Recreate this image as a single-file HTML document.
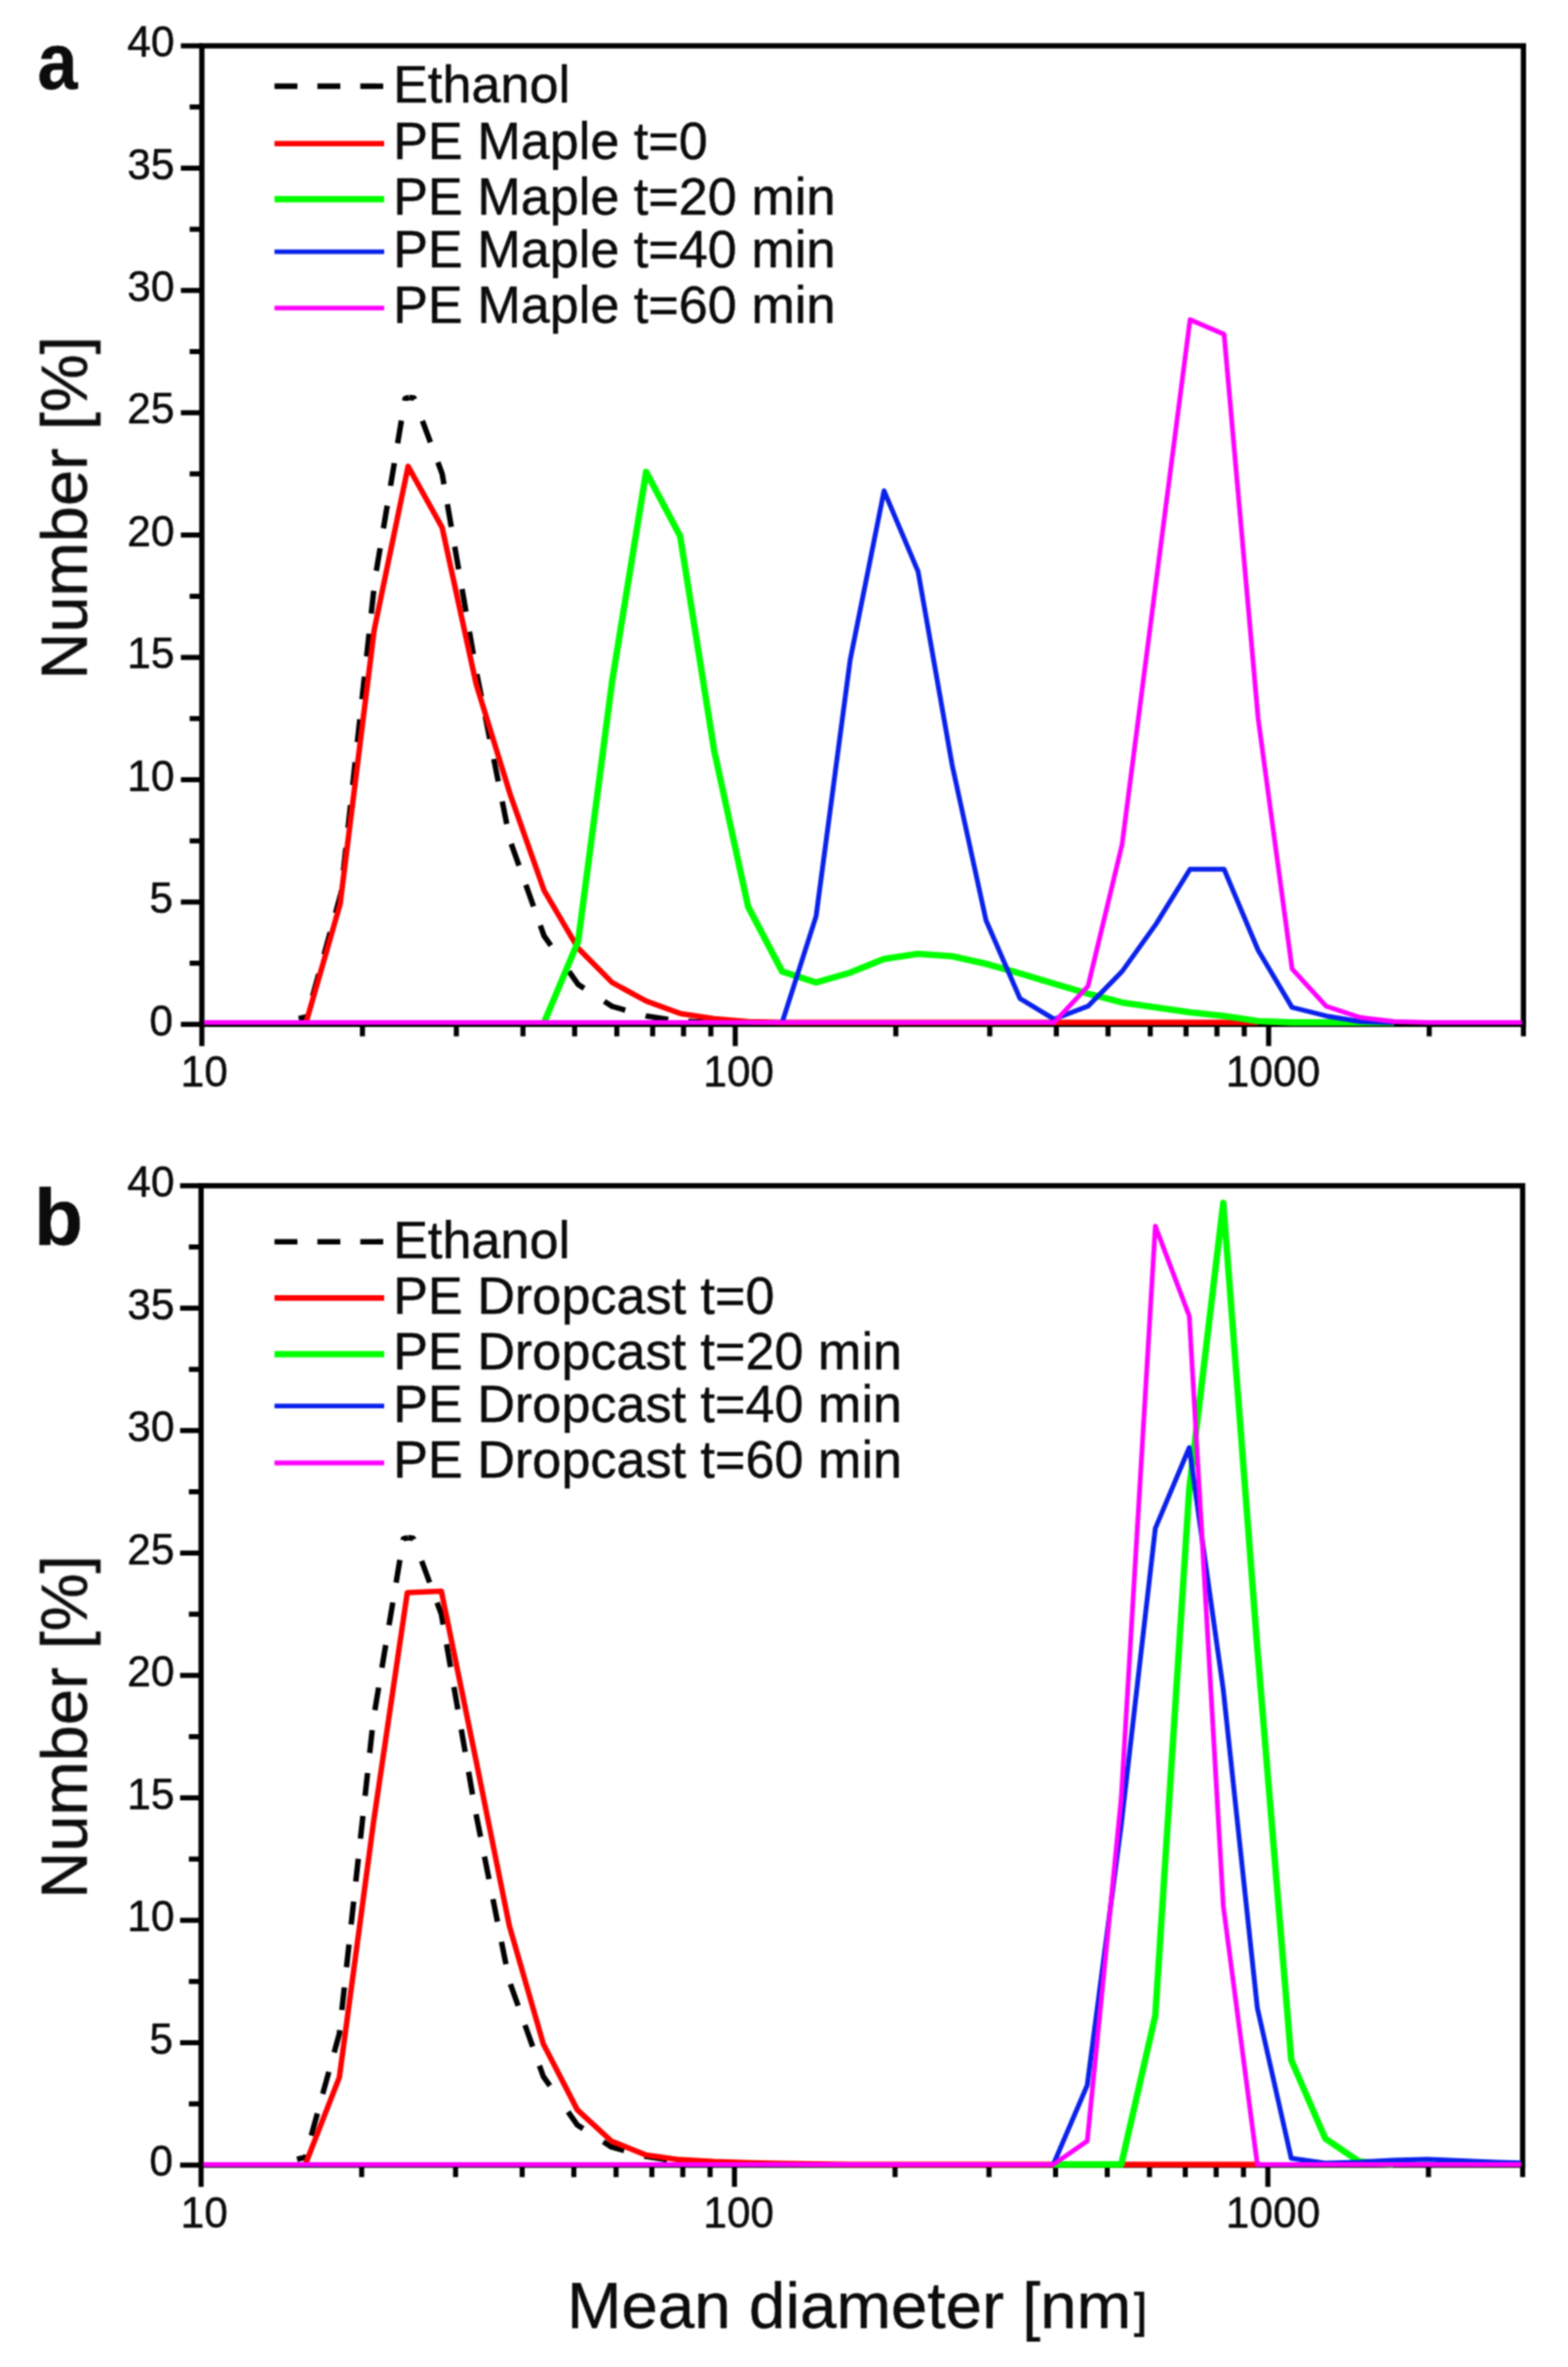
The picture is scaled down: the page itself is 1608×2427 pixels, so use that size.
<!DOCTYPE html>
<html lang="en"><head><meta charset="utf-8"><title>Particle size distributions</title>
<style>html,body{margin:0;padding:0;background:#fff}body{width:1608px;height:2427px;overflow:hidden}svg{display:block}text{font-family:"Liberation Sans",sans-serif;fill:#0c0c0c;stroke:#0c0c0c;stroke-width:0.45px}</style></head><body>
<svg width="1608" height="2427" viewBox="0 0 1608 2427">
<defs><filter id="bl" filterUnits="userSpaceOnUse" x="0" y="0" width="1608" height="2427" color-interpolation-filters="sRGB"><feConvolveMatrix order="3" kernelMatrix="1 2 1 2 4 2 1 2 1" divisor="16" edgeMode="duplicate" preserveAlpha="false"/></filter>
<clipPath id="clipa"><rect x="207.0" y="44.0" width="1353.8" height="1009.3"/></clipPath>
<clipPath id="clipb"><rect x="207.0" y="1212.8" width="1353.8" height="1010.2"/></clipPath>
</defs>
<rect width="1608" height="2427" fill="#fff"/>
<g filter="url(#bl)">
<g stroke="#000" fill="none" stroke-linecap="butt" transform="translate(0.0,0)">
<rect x="207.0" y="47.0" width="1355.3" height="1003.3" stroke-width="5.4"/>
<line x1="185.5" y1="1050.3" x2="207.0" y2="1050.3" stroke-width="5.2"/>
<line x1="194.5" y1="987.6" x2="207.0" y2="987.6" stroke-width="5.2"/>
<line x1="185.5" y1="924.9" x2="207.0" y2="924.9" stroke-width="5.2"/>
<line x1="194.5" y1="862.2" x2="207.0" y2="862.2" stroke-width="5.2"/>
<line x1="185.5" y1="799.5" x2="207.0" y2="799.5" stroke-width="5.2"/>
<line x1="194.5" y1="736.8" x2="207.0" y2="736.8" stroke-width="5.2"/>
<line x1="185.5" y1="674.1" x2="207.0" y2="674.1" stroke-width="5.2"/>
<line x1="194.5" y1="611.4" x2="207.0" y2="611.4" stroke-width="5.2"/>
<line x1="185.5" y1="548.6" x2="207.0" y2="548.6" stroke-width="5.2"/>
<line x1="194.5" y1="485.9" x2="207.0" y2="485.9" stroke-width="5.2"/>
<line x1="185.5" y1="423.2" x2="207.0" y2="423.2" stroke-width="5.2"/>
<line x1="194.5" y1="360.5" x2="207.0" y2="360.5" stroke-width="5.2"/>
<line x1="185.5" y1="297.8" x2="207.0" y2="297.8" stroke-width="5.2"/>
<line x1="194.5" y1="235.1" x2="207.0" y2="235.1" stroke-width="5.2"/>
<line x1="185.5" y1="172.4" x2="207.0" y2="172.4" stroke-width="5.2"/>
<line x1="194.5" y1="109.7" x2="207.0" y2="109.7" stroke-width="5.2"/>
<line x1="185.5" y1="47.0" x2="207.0" y2="47.0" stroke-width="5.2"/>
<line x1="207.0" y1="1050.3" x2="207.0" y2="1072.6" stroke-width="5.2"/>
<line x1="371.7" y1="1050.3" x2="371.7" y2="1062.6" stroke-width="5.2"/>
<line x1="468.0" y1="1050.3" x2="468.0" y2="1062.6" stroke-width="5.2"/>
<line x1="536.3" y1="1050.3" x2="536.3" y2="1062.6" stroke-width="5.2"/>
<line x1="589.3" y1="1050.3" x2="589.3" y2="1062.6" stroke-width="5.2"/>
<line x1="632.6" y1="1050.3" x2="632.6" y2="1062.6" stroke-width="5.2"/>
<line x1="669.3" y1="1050.3" x2="669.3" y2="1062.6" stroke-width="5.2"/>
<line x1="701.0" y1="1050.3" x2="701.0" y2="1062.6" stroke-width="5.2"/>
<line x1="729.0" y1="1050.3" x2="729.0" y2="1062.6" stroke-width="5.2"/>
<line x1="754.0" y1="1050.3" x2="754.0" y2="1072.6" stroke-width="5.2"/>
<line x1="918.7" y1="1050.3" x2="918.7" y2="1062.6" stroke-width="5.2"/>
<line x1="1015.0" y1="1050.3" x2="1015.0" y2="1062.6" stroke-width="5.2"/>
<line x1="1083.3" y1="1050.3" x2="1083.3" y2="1062.6" stroke-width="5.2"/>
<line x1="1136.3" y1="1050.3" x2="1136.3" y2="1062.6" stroke-width="5.2"/>
<line x1="1179.6" y1="1050.3" x2="1179.6" y2="1062.6" stroke-width="5.2"/>
<line x1="1216.3" y1="1050.3" x2="1216.3" y2="1062.6" stroke-width="5.2"/>
<line x1="1248.0" y1="1050.3" x2="1248.0" y2="1062.6" stroke-width="5.2"/>
<line x1="1276.0" y1="1050.3" x2="1276.0" y2="1062.6" stroke-width="5.2"/>
<line x1="1301.0" y1="1050.3" x2="1301.0" y2="1072.6" stroke-width="5.2"/>
<line x1="1465.7" y1="1050.3" x2="1465.7" y2="1062.6" stroke-width="5.2"/>
<line x1="1562.3" y1="1050.3" x2="1562.3" y2="1062.6" stroke-width="5.2"/>
</g>
<g font-size="43.5" text-anchor="end">
<text x="177.4" y="1061.5">0</text>
<text x="177.4" y="936.1">5</text>
<text x="178.9" y="810.7">10</text>
<text x="178.9" y="685.3">15</text>
<text x="178.9" y="559.9">20</text>
<text x="178.9" y="434.4">25</text>
<text x="178.9" y="309.0">30</text>
<text x="178.9" y="183.6">35</text>
<text x="178.9" y="58.2">40</text>
</g>
<g font-size="43.5" text-anchor="middle">
<text x="209.5" y="1113.8">10</text>
<text x="757.5" y="1113.8">100</text>
<text x="1305.5" y="1113.8">1000</text>
</g>
<g clip-path="url(#clipa)" fill="none" stroke-linejoin="round" transform="translate(0.0,0)">
<polyline points="419.5,407.5 415.4,408.7 384.6,593.5 349.7,915.8 314.8,1042.5 306.3,1044.5" stroke="#000000" stroke-width="5.6" stroke-dasharray="23.5 20.7" stroke-dashoffset="17"/>
<polyline points="419.5,407.5 424.5,408.1 453.4,485.7 488.3,687.6 523.1,861.9 558.0,959.7 592.9,1009.4 627.7,1031.9 662.6,1041.7 697.5,1047.0 732.3,1048.4" stroke="#000000" stroke-width="5.6" stroke-dasharray="23.5 23.5 23.5 21.9 23.5 20.7 23.5 20.7 23.5 20.7 23.5 20.7 23.5 20.7 23.5 20.7 23.5 21.0 23.5 21.0 23.5 21.0 23.5 21.0 23.5 20.7 23.5 32.5 23.5 24.7 23.5 21.7 23.5 20.7 23.5 20.7 23.5 20.7 23.5 20.7 23.5 20.7 23.5 20.7 23.5 20.7 23.5 20.7 23.5 20.7 23.5 20.7 23.5 20.7 23.5 20.7 23.5 20.7 23.5 20.7 23.5 20.7 23.5 20.7 23.5 20.7 23.5 20.7 23.5 20.7 23.5 20.7 23.5 20.7 23.5 20.7 23.5 20.7 23.5 20.7 23.5 20.7" stroke-dashoffset="17"/>
<polyline points="313.9,1048.4 348.8,927.1 383.7,646.2 418.5,478.2 453.4,540.9 488.3,701.4 523.1,814.2 558.0,913.1 592.9,972.3 627.7,1007.4 662.6,1026.4 697.5,1039.2 732.3,1044.5 767.2,1047.5 802.1,1048.4 836.9,1048.4 871.8,1048.4 906.6,1048.4 941.5,1048.4 976.4,1048.4 1011.2,1048.4 1046.1,1048.4 1081.0,1048.4 1115.8,1048.4 1150.7,1048.4 1185.6,1048.4 1220.4,1048.4 1255.3,1048.4 1290.2,1048.4" stroke="#ff0000" stroke-width="5.6"/>
<polyline points="558.0,1048.4 592.9,965.2 627.7,698.9 662.6,483.9 697.5,549.7 732.3,769.1 767.2,929.6 802.1,996.1 836.9,1007.4 871.8,997.3 906.6,983.3 941.5,978.0 976.4,980.5 1011.2,988.3 1046.1,998.1 1081.0,1008.6 1115.8,1018.9 1150.7,1027.9 1185.6,1032.9 1220.4,1038.0 1255.3,1041.7 1290.2,1047.0 1325.0,1048.4 1359.9,1048.4 1394.8,1048.4 1429.6,1048.4" stroke="#00ff00" stroke-width="6.6"/>
<polyline points="802.1,1048.4 836.9,939.6 871.8,677.1 906.6,503.3 941.5,586.0 976.4,784.2 1011.2,943.7 1046.1,1023.9 1081.0,1045.0 1115.8,1031.7 1150.7,996.1 1185.6,947.4 1220.4,891.2 1255.3,891.2 1290.2,974.3 1325.0,1032.9 1359.9,1041.7 1394.8,1047.5 1429.6,1048.4" stroke="#0a22ea" stroke-width="5.0"/>
<polyline points="209.4,1048.4 244.2,1048.4 279.1,1048.4 313.9,1048.4 348.8,1048.4 383.7,1048.4 418.5,1048.4 453.4,1048.4 488.3,1048.4 523.1,1048.4 558.0,1048.4 592.9,1048.4 627.7,1048.4 662.6,1048.4 697.5,1048.4 732.3,1048.4 767.2,1048.4 802.1,1048.4 836.9,1048.4 871.8,1048.4 906.6,1048.4 941.5,1048.4 976.4,1048.4 1011.2,1048.4 1046.1,1048.4 1081.0,1048.4 1115.8,1011.1 1150.7,865.9 1185.6,596.1 1220.4,327.7 1255.3,342.7 1290.2,736.5 1325.0,993.3 1359.9,1031.7 1394.8,1043.2 1429.6,1047.5 1464.5,1048.4 1499.4,1048.4 1534.2,1048.4 1569.1,1048.4" stroke="#ff00ff" stroke-width="4.8"/>
</g>
<line x1="281.5" y1="88.4" x2="394" y2="88.4" stroke="#000000" stroke-width="5.6" stroke-dasharray="23.5 20.5"/>
<text x="403.2" y="104.8" font-size="53.5">Ethanol</text>
<line x1="281.5" y1="147.2" x2="394" y2="147.2" stroke="#ff0000" stroke-width="5.6"/>
<text x="403.2" y="163.3" font-size="53.5">PE Maple t=0</text>
<line x1="281.5" y1="204.2" x2="394" y2="204.2" stroke="#00ff00" stroke-width="6.6"/>
<text x="403.2" y="220.0" font-size="53.5">PE Maple t=20 min</text>
<line x1="281.5" y1="258.1" x2="394" y2="258.1" stroke="#0a22ea" stroke-width="4.8"/>
<text x="403.2" y="274.4" font-size="53.5">PE Maple t=40 min</text>
<line x1="281.5" y1="315.8" x2="394" y2="315.8" stroke="#ff00ff" stroke-width="4.8"/>
<text x="403.2" y="331.0" font-size="53.5">PE Maple t=60 min</text>
<g stroke="#000" fill="none" stroke-linecap="butt" transform="translate(-0.8,0)">
<rect x="207.0" y="1215.8" width="1355.3" height="1004.2" stroke-width="5.4"/>
<line x1="185.5" y1="2220.0" x2="207.0" y2="2220.0" stroke-width="5.2"/>
<line x1="194.5" y1="2157.2" x2="207.0" y2="2157.2" stroke-width="5.2"/>
<line x1="185.5" y1="2094.5" x2="207.0" y2="2094.5" stroke-width="5.2"/>
<line x1="194.5" y1="2031.7" x2="207.0" y2="2031.7" stroke-width="5.2"/>
<line x1="185.5" y1="1969.0" x2="207.0" y2="1969.0" stroke-width="5.2"/>
<line x1="194.5" y1="1906.2" x2="207.0" y2="1906.2" stroke-width="5.2"/>
<line x1="185.5" y1="1843.4" x2="207.0" y2="1843.4" stroke-width="5.2"/>
<line x1="194.5" y1="1780.7" x2="207.0" y2="1780.7" stroke-width="5.2"/>
<line x1="185.5" y1="1717.9" x2="207.0" y2="1717.9" stroke-width="5.2"/>
<line x1="194.5" y1="1655.1" x2="207.0" y2="1655.1" stroke-width="5.2"/>
<line x1="185.5" y1="1592.4" x2="207.0" y2="1592.4" stroke-width="5.2"/>
<line x1="194.5" y1="1529.6" x2="207.0" y2="1529.6" stroke-width="5.2"/>
<line x1="185.5" y1="1466.8" x2="207.0" y2="1466.8" stroke-width="5.2"/>
<line x1="194.5" y1="1404.1" x2="207.0" y2="1404.1" stroke-width="5.2"/>
<line x1="185.5" y1="1341.3" x2="207.0" y2="1341.3" stroke-width="5.2"/>
<line x1="194.5" y1="1278.6" x2="207.0" y2="1278.6" stroke-width="5.2"/>
<line x1="185.5" y1="1215.8" x2="207.0" y2="1215.8" stroke-width="5.2"/>
<line x1="207.0" y1="2220.0" x2="207.0" y2="2242.3" stroke-width="5.2"/>
<line x1="371.7" y1="2220.0" x2="371.7" y2="2232.3" stroke-width="5.2"/>
<line x1="468.0" y1="2220.0" x2="468.0" y2="2232.3" stroke-width="5.2"/>
<line x1="536.3" y1="2220.0" x2="536.3" y2="2232.3" stroke-width="5.2"/>
<line x1="589.3" y1="2220.0" x2="589.3" y2="2232.3" stroke-width="5.2"/>
<line x1="632.6" y1="2220.0" x2="632.6" y2="2232.3" stroke-width="5.2"/>
<line x1="669.3" y1="2220.0" x2="669.3" y2="2232.3" stroke-width="5.2"/>
<line x1="701.0" y1="2220.0" x2="701.0" y2="2232.3" stroke-width="5.2"/>
<line x1="729.0" y1="2220.0" x2="729.0" y2="2232.3" stroke-width="5.2"/>
<line x1="754.0" y1="2220.0" x2="754.0" y2="2242.3" stroke-width="5.2"/>
<line x1="918.7" y1="2220.0" x2="918.7" y2="2232.3" stroke-width="5.2"/>
<line x1="1015.0" y1="2220.0" x2="1015.0" y2="2232.3" stroke-width="5.2"/>
<line x1="1083.3" y1="2220.0" x2="1083.3" y2="2232.3" stroke-width="5.2"/>
<line x1="1136.3" y1="2220.0" x2="1136.3" y2="2232.3" stroke-width="5.2"/>
<line x1="1179.6" y1="2220.0" x2="1179.6" y2="2232.3" stroke-width="5.2"/>
<line x1="1216.3" y1="2220.0" x2="1216.3" y2="2232.3" stroke-width="5.2"/>
<line x1="1248.0" y1="2220.0" x2="1248.0" y2="2232.3" stroke-width="5.2"/>
<line x1="1276.0" y1="2220.0" x2="1276.0" y2="2232.3" stroke-width="5.2"/>
<line x1="1301.0" y1="2220.0" x2="1301.0" y2="2242.3" stroke-width="5.2"/>
<line x1="1465.7" y1="2220.0" x2="1465.7" y2="2232.3" stroke-width="5.2"/>
<line x1="1562.3" y1="2220.0" x2="1562.3" y2="2232.3" stroke-width="5.2"/>
</g>
<g font-size="43.5" text-anchor="end">
<text x="177.4" y="2231.2">0</text>
<text x="177.4" y="2105.7">5</text>
<text x="178.9" y="1980.2">10</text>
<text x="178.9" y="1854.6">15</text>
<text x="178.9" y="1729.1">20</text>
<text x="178.9" y="1603.6">25</text>
<text x="178.9" y="1478.0">30</text>
<text x="178.9" y="1352.5">35</text>
<text x="178.9" y="1227.0">40</text>
</g>
<g font-size="43.5" text-anchor="middle">
<text x="209.5" y="2283.5">10</text>
<text x="757.5" y="2283.5">100</text>
<text x="1305.5" y="2283.5">1000</text>
</g>
<g clip-path="url(#clipb)" fill="none" stroke-linejoin="round" transform="translate(-0.8,0)">
<polyline points="419.5,1576.6 414.5,1577.8 383.7,1762.8 348.8,2085.2 313.9,2211.9 305.4,2213.9" stroke="#000000" stroke-width="5.6" stroke-dasharray="23.5 20.7" stroke-dashoffset="17"/>
<polyline points="419.5,1576.6 424.5,1577.2 453.4,1654.9 488.3,1856.8 523.1,2031.2 558.0,2129.1 592.9,2178.8 627.7,2201.3 662.6,2211.1 697.5,2216.4 732.3,2219.4" stroke="#000000" stroke-width="5.6" stroke-dasharray="23.5 23.5 23.5 21.9 23.5 20.7 23.5 20.7 23.5 20.7 23.5 20.7 23.5 20.7 23.5 20.7 23.5 21.0 23.5 21.0 23.5 21.0 23.5 21.0 23.5 20.7 23.5 32.5 23.5 24.7 23.5 21.7 23.5 20.7 23.5 20.7 23.5 20.7 23.5 20.7 23.5 20.7 23.5 20.7 23.5 20.7 23.5 20.7 23.5 20.7 23.5 20.7 23.5 20.7 23.5 20.7 23.5 20.7 23.5 20.7 23.5 20.7 23.5 20.7 23.5 20.7 23.5 20.7 23.5 20.7 23.5 20.7 23.5 20.7 23.5 20.7 23.5 20.7 23.5 20.7 23.5 20.7" stroke-dashoffset="17"/>
<polyline points="313.9,2219.4 348.8,2130.1 383.7,1869.4 418.5,1633.0 453.4,1631.5 488.3,1801.7 523.1,1974.5 558.0,2095.7 592.9,2163.4 627.7,2195.3 662.6,2209.4 697.5,2214.4 732.3,2216.4 767.2,2217.6 802.1,2218.4 836.9,2218.9 871.8,2219.4 906.6,2219.4 941.5,2219.4 976.4,2219.4 1011.2,2219.4 1046.1,2219.4 1081.0,2219.4 1115.8,2219.4 1150.7,2219.4 1185.6,2219.4 1220.4,2219.4 1255.3,2219.4 1290.2,2219.4" stroke="#ff0000" stroke-width="5.6"/>
<polyline points="1081.0,2219.4 1115.8,2219.4 1150.7,2219.4 1185.6,2066.4 1220.4,1526.9 1255.3,1233.4 1290.2,1690.0 1325.0,2112.3 1359.9,2192.8 1394.8,2216.4 1429.6,2219.4" stroke="#00ff00" stroke-width="6.6"/>
<polyline points="1081.0,2219.4 1115.8,2137.9 1150.7,1870.6 1185.6,1567.1 1220.4,1484.3 1255.3,1732.7 1290.2,2058.8 1325.0,2213.1 1359.9,2217.9 1394.8,2216.9 1429.6,2214.9 1464.5,2213.9 1499.4,2215.4 1534.2,2216.9 1569.1,2218.1" stroke="#0a22ea" stroke-width="5.0"/>
<polyline points="209.4,2219.4 244.2,2219.4 279.1,2219.4 313.9,2219.4 348.8,2219.4 383.7,2219.4 418.5,2219.4 453.4,2219.4 488.3,2219.4 523.1,2219.4 558.0,2219.4 592.9,2219.4 627.7,2219.4 662.6,2219.4 697.5,2219.4 732.3,2219.4 767.2,2219.4 802.1,2219.4 836.9,2219.4 871.8,2219.4 906.6,2219.4 941.5,2219.4 976.4,2219.4 1011.2,2219.4 1046.1,2219.4 1081.0,2219.4 1115.8,2195.3 1150.7,1843.1 1185.6,1257.2 1220.4,1349.3 1255.3,1954.2 1290.2,2219.4 1325.0,2219.4 1359.9,2219.4 1394.8,2219.4 1429.6,2219.4 1464.5,2219.4 1499.4,2219.4 1534.2,2219.4 1569.1,2219.4" stroke="#ff00ff" stroke-width="4.8"/>
</g>
<line x1="281.5" y1="1273.2" x2="394" y2="1273.2" stroke="#000000" stroke-width="5.6" stroke-dasharray="23.5 20.5"/>
<text x="403.2" y="1289.6" font-size="53.5">Ethanol</text>
<line x1="281.5" y1="1330.9" x2="394" y2="1330.9" stroke="#ff0000" stroke-width="5.6"/>
<text x="403.2" y="1347.0" font-size="53.5">PE Dropcast t=0</text>
<line x1="281.5" y1="1388.5" x2="394" y2="1388.5" stroke="#00ff00" stroke-width="6.6"/>
<text x="403.2" y="1404.3" font-size="53.5">PE Dropcast t=20 min</text>
<line x1="281.5" y1="1441.6" x2="394" y2="1441.6" stroke="#0a22ea" stroke-width="4.8"/>
<text x="403.2" y="1458.0" font-size="53.5">PE Dropcast t=40 min</text>
<line x1="281.5" y1="1500.0" x2="394" y2="1500.0" stroke="#ff00ff" stroke-width="4.8"/>
<text x="403.2" y="1515.2" font-size="53.5">PE Dropcast t=60 min</text>
<text transform="translate(38.5,91) scale(0.9,1)" font-size="82" font-weight="bold" fill="#000" stroke="none">a</text>
<text x="35" y="1276.2" font-size="82" font-weight="bold" fill="#000" stroke="none">b</text>
<text transform="translate(88.9,696.8) rotate(-90)" font-size="66.7">Number [%]</text>
<text transform="translate(88.9,1946.8) rotate(-90)" font-size="66.7">Number [%]</text>
<text x="581.4" y="2386.5" font-size="67.2">Mean diameter [nm<tspan font-size="50" dx="2.5" dy="-0.5">]</tspan></text>
</g></svg></body></html>
